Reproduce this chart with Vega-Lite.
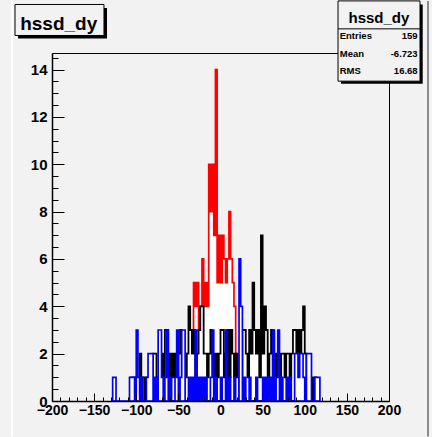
{
  "$schema": "https://vega.github.io/schema/vega-lite/v6.json",
  "width": 337,
  "height": 348,
  "autosize": "none",
  "padding": {"left": 52, "top": 53, "right": 43, "bottom": 36},
  "background": "#f2f2f2",
  "config": {
    "font": "Liberation Sans",
    "view": {"stroke": "#000000", "strokeWidth": 1, "fill": "#f2f2f2"}
  },
  "datasets": {
    "red": [
      {"x": -48, "n": 0}, {"x": -46, "n": 1}, {"x": -44, "n": 1}, {"x": -42, "n": 0}, {"x": -40, "n": 2},
      {"x": -38, "n": 1}, {"x": -36, "n": 3}, {"x": -34, "n": 2}, {"x": -32, "n": 5}, {"x": -30, "n": 4},
      {"x": -28, "n": 5}, {"x": -26, "n": 3}, {"x": -24, "n": 4}, {"x": -22, "n": 6}, {"x": -20, "n": 4},
      {"x": -18, "n": 5}, {"x": -16, "n": 4}, {"x": -14, "n": 10}, {"x": -12, "n": 8}, {"x": -10, "n": 10},
      {"x": -8, "n": 7}, {"x": -6, "n": 14}, {"x": -4, "n": 5}, {"x": -2, "n": 7}, {"x": 0, "n": 5},
      {"x": 2, "n": 7}, {"x": 4, "n": 6}, {"x": 6, "n": 5}, {"x": 8, "n": 6}, {"x": 10, "n": 8},
      {"x": 12, "n": 6}, {"x": 14, "n": 5}, {"x": 16, "n": 4}, {"x": 18, "n": 2}, {"x": 20, "n": 2},
      {"x": 22, "n": 1}, {"x": 24, "n": 0}, {"x": 26, "n": 1}, {"x": 28, "n": 1}, {"x": 30, "n": 1},
      {"x": 32, "n": 1}, {"x": 34, "n": 0}, {"x": 36, "n": 1}, {"x": 38, "n": 1}, {"x": 40, "n": 1},
      {"x": 42, "n": 1}, {"x": 44, "n": 1}, {"x": 46, "n": 1}, {"x": 48, "n": 0}
    ],
    "black": [
      {"x": -108, "n": 0}, {"x": -106, "n": 1}, {"x": -104, "n": 0}, {"x": -102, "n": 1}, {"x": -100, "n": 0},
      {"x": -98, "n": 1}, {"x": -96, "n": 2}, {"x": -94, "n": 1}, {"x": -92, "n": 1}, {"x": -90, "n": 0},
      {"x": -88, "n": 1}, {"x": -86, "n": 1}, {"x": -84, "n": 0}, {"x": -82, "n": 1}, {"x": -80, "n": 2},
      {"x": -78, "n": 2}, {"x": -76, "n": 1}, {"x": -74, "n": 0}, {"x": -72, "n": 1}, {"x": -70, "n": 2},
      {"x": -68, "n": 1}, {"x": -66, "n": 3}, {"x": -64, "n": 3}, {"x": -62, "n": 2}, {"x": -60, "n": 1},
      {"x": -58, "n": 2}, {"x": -56, "n": 1}, {"x": -54, "n": 2}, {"x": -52, "n": 0}, {"x": -50, "n": 2},
      {"x": -48, "n": 3}, {"x": -46, "n": 1}, {"x": -44, "n": 2}, {"x": -42, "n": 1}, {"x": -40, "n": 2},
      {"x": -38, "n": 4}, {"x": -36, "n": 3}, {"x": -34, "n": 2}, {"x": -32, "n": 3}, {"x": -30, "n": 1},
      {"x": -28, "n": 2}, {"x": -26, "n": 3}, {"x": -24, "n": 4}, {"x": -22, "n": 4}, {"x": -20, "n": 2},
      {"x": -18, "n": 2}, {"x": -16, "n": 1}, {"x": -14, "n": 2}, {"x": -12, "n": 3}, {"x": -10, "n": 2},
      {"x": -8, "n": 1}, {"x": -6, "n": 2}, {"x": -4, "n": 1}, {"x": -2, "n": 2}, {"x": 0, "n": 3},
      {"x": 2, "n": 3}, {"x": 4, "n": 1}, {"x": 6, "n": 2}, {"x": 8, "n": 3}, {"x": 10, "n": 1},
      {"x": 12, "n": 3}, {"x": 14, "n": 2}, {"x": 16, "n": 1}, {"x": 18, "n": 2}, {"x": 20, "n": 1},
      {"x": 22, "n": 0}, {"x": 24, "n": 1}, {"x": 26, "n": 3}, {"x": 28, "n": 3}, {"x": 30, "n": 2},
      {"x": 32, "n": 1}, {"x": 34, "n": 3}, {"x": 36, "n": 2}, {"x": 38, "n": 5}, {"x": 40, "n": 3},
      {"x": 42, "n": 2}, {"x": 44, "n": 3}, {"x": 46, "n": 1}, {"x": 48, "n": 7}, {"x": 50, "n": 2},
      {"x": 52, "n": 4}, {"x": 54, "n": 3}, {"x": 56, "n": 1}, {"x": 58, "n": 2}, {"x": 60, "n": 3},
      {"x": 62, "n": 1}, {"x": 64, "n": 2}, {"x": 66, "n": 1}, {"x": 68, "n": 2}, {"x": 70, "n": 1},
      {"x": 72, "n": 2}, {"x": 74, "n": 2}, {"x": 76, "n": 1}, {"x": 78, "n": 2}, {"x": 80, "n": 2},
      {"x": 82, "n": 1}, {"x": 84, "n": 2}, {"x": 86, "n": 3}, {"x": 88, "n": 3}, {"x": 90, "n": 2},
      {"x": 92, "n": 3}, {"x": 94, "n": 1}, {"x": 96, "n": 3}, {"x": 98, "n": 4}, {"x": 100, "n": 2},
      {"x": 102, "n": 1}, {"x": 104, "n": 1}, {"x": 106, "n": 0}, {"x": 108, "n": 1}, {"x": 110, "n": 0},
      {"x": 112, "n": 1}, {"x": 114, "n": 0}
    ],
    "blue": [
      {"x": -130, "n": 0}, {"x": -128, "n": 1}, {"x": -126, "n": 1}, {"x": -124, "n": 0}, {"x": -110, "n": 0},
      {"x": -108, "n": 1}, {"x": -106, "n": 1}, {"x": -104, "n": 1}, {"x": -102, "n": 0}, {"x": -100, "n": 3},
      {"x": -98, "n": 1}, {"x": -96, "n": 0}, {"x": -94, "n": 1}, {"x": -92, "n": 0}, {"x": -90, "n": 0},
      {"x": -88, "n": 1}, {"x": -86, "n": 2}, {"x": -84, "n": 2}, {"x": -82, "n": 2}, {"x": -80, "n": 0},
      {"x": -78, "n": 1}, {"x": -76, "n": 0}, {"x": -74, "n": 3}, {"x": -72, "n": 3}, {"x": -70, "n": 1},
      {"x": -68, "n": 0}, {"x": -66, "n": 1}, {"x": -64, "n": 3}, {"x": -62, "n": 0}, {"x": -60, "n": 1},
      {"x": -58, "n": 0}, {"x": -56, "n": 0}, {"x": -54, "n": 1}, {"x": -52, "n": 3}, {"x": -50, "n": 0},
      {"x": -48, "n": 1}, {"x": -46, "n": 3}, {"x": -44, "n": 3}, {"x": -42, "n": 0}, {"x": -40, "n": 0},
      {"x": -38, "n": 1}, {"x": -36, "n": 0}, {"x": -34, "n": 1}, {"x": -32, "n": 0}, {"x": -30, "n": 3},
      {"x": -28, "n": 0}, {"x": -26, "n": 1}, {"x": -24, "n": 0}, {"x": -22, "n": 1}, {"x": -20, "n": 0},
      {"x": -18, "n": 1}, {"x": -16, "n": 0}, {"x": -14, "n": 0}, {"x": -12, "n": 1}, {"x": -10, "n": 3},
      {"x": -8, "n": 0}, {"x": -6, "n": 1}, {"x": -4, "n": 0}, {"x": -2, "n": 0}, {"x": 0, "n": 1},
      {"x": 2, "n": 0}, {"x": 4, "n": 0}, {"x": 6, "n": 3}, {"x": 8, "n": 0}, {"x": 10, "n": 1},
      {"x": 12, "n": 0}, {"x": 14, "n": 0}, {"x": 16, "n": 1}, {"x": 18, "n": 0}, {"x": 20, "n": 0},
      {"x": 22, "n": 6}, {"x": 24, "n": 4}, {"x": 26, "n": 0}, {"x": 28, "n": 1}, {"x": 30, "n": 0},
      {"x": 32, "n": 0}, {"x": 34, "n": 1}, {"x": 36, "n": 0}, {"x": 38, "n": 0}, {"x": 40, "n": 0},
      {"x": 42, "n": 1}, {"x": 44, "n": 0}, {"x": 46, "n": 0}, {"x": 48, "n": 0}, {"x": 50, "n": 1},
      {"x": 52, "n": 0}, {"x": 54, "n": 1}, {"x": 56, "n": 0}, {"x": 58, "n": 1}, {"x": 60, "n": 0},
      {"x": 62, "n": 3}, {"x": 64, "n": 0}, {"x": 66, "n": 1}, {"x": 68, "n": 3}, {"x": 70, "n": 0},
      {"x": 72, "n": 1}, {"x": 74, "n": 0}, {"x": 76, "n": 0}, {"x": 78, "n": 1}, {"x": 80, "n": 0},
      {"x": 82, "n": 1}, {"x": 84, "n": 0}, {"x": 86, "n": 0}, {"x": 88, "n": 2}, {"x": 90, "n": 2},
      {"x": 92, "n": 1}, {"x": 94, "n": 2}, {"x": 96, "n": 2}, {"x": 98, "n": 1}, {"x": 100, "n": 0},
      {"x": 102, "n": 2}, {"x": 104, "n": 2}, {"x": 106, "n": 2}, {"x": 108, "n": 0}, {"x": 112, "n": 1},
      {"x": 114, "n": 1}, {"x": 116, "n": 1}, {"x": 118, "n": 0}
    ],
    "panel": [{"name": "hssd_dy"}]
  },
  "resolve": {"axis": {"x": "independent", "y": "independent"}},
  "layer": [
    {
      "data": {"name": "red"},
      "mark": {"type": "area", "interpolate": "step-after", "fill": "#ffffff", "stroke": "#ff0000", "strokeWidth": 1.7},
      "encoding": {
        "x": {"field": "x", "type": "quantitative", "scale": {"domain": [-200, 200], "nice": false, "zero": false}, "axis": {
          "orient": "bottom", "values": [-200, -150, -100, -50, 0, 50, 100, 150, 200], "format": "d",
          "title": null, "grid": false, "domainColor": "#000000", "domainWidth": 1.5,
          "tickColor": "#000000", "tickSize": -8, "tickWidth": 1,
          "labelFont": "Liberation Sans", "labelFontWeight": "bold", "labelFontSize": 14, "labelColor": "#000000",
          "labelPadding": 10, "labelFlush": false, "labelOverlap": false, "zindex": 1
        }},
        "y": {"field": "n", "type": "quantitative", "scale": {"domain": [0, 14.7], "nice": false}, "axis": {
          "orient": "left", "values": [0, 2, 4, 6, 8, 10, 12, 14], "format": "d",
          "title": null, "grid": false, "domainColor": "#000000", "domainWidth": 1.5,
          "tickColor": "#000000", "tickSize": -12, "tickWidth": 1,
          "labelFont": "Liberation Sans", "labelFontWeight": "bold", "labelFontSize": 15, "labelColor": "#000000",
          "labelPadding": 17, "labelFlush": false, "labelOverlap": false, "zindex": 1
        }}
      }
    },
    {
      "data": {"name": "black"},
      "mark": {"type": "area", "interpolate": "step-after", "fill": "#ffffff", "stroke": "#000000", "strokeWidth": 1.8},
      "encoding": {
        "x": {"field": "x", "type": "quantitative", "scale": {"domain": [-200, 200], "nice": false, "zero": false}, "axis": {
          "orient": "bottom", "values": [-190, -180, -170, -160, -140, -130, -120, -110, -90, -80, -70, -60, -40, -30, -20, -10, 10, 20, 30, 40, 60, 70, 80, 90, 110, 120, 130, 140, 160, 170, 180, 190],
          "title": null, "grid": false, "domain": false, "labels": false,
          "tickColor": "#000000", "tickSize": -4, "tickWidth": 1, "zindex": 1
        }},
        "y": {"field": "n", "type": "quantitative", "scale": {"domain": [0, 14.7], "nice": false}, "axis": {
          "orient": "left", "values": [0.5, 1, 1.5, 2.5, 3, 3.5, 4.5, 5, 5.5, 6.5, 7, 7.5, 8.5, 9, 9.5, 10.5, 11, 11.5, 12.5, 13, 13.5, 14.5],
          "title": null, "grid": false, "domain": false, "labels": false,
          "tickColor": "#000000", "tickSize": -6, "tickWidth": 1, "zindex": 1
        }}
      }
    },
    {
      "data": {"name": "blue"},
      "mark": {"type": "area", "interpolate": "step-after", "fill": "#ffffff", "stroke": "#0000ff", "strokeWidth": 1.7},
      "encoding": {
        "x": {"field": "x", "type": "quantitative", "scale": {"domain": [-200, 200], "nice": false, "zero": false}, "axis": null},
        "y": {"field": "n", "type": "quantitative", "scale": {"domain": [0, 14.7], "nice": false}, "axis": null}
      }
    },
    {
      "data": {"name": "panel"},
      "mark": {"type": "rule", "stroke": "#ffffff", "strokeWidth": 2, "clip": false},
      "encoding": {
        "x": {"datum": -247.5, "type": "quantitative", "scale": {"domain": [-200, 200], "nice": false, "zero": false}, "axis": null},
        "y": {"datum": 16.9, "type": "quantitative", "scale": {"domain": [0, 14.7], "nice": false}, "axis": null},
        "y2": {"datum": -1.5}
      }
    },
    {
      "data": {"name": "panel"},
      "mark": {"type": "rule", "stroke": "#8c8c8c", "strokeWidth": 2, "clip": false},
      "encoding": {
        "x": {"datum": 246.3, "type": "quantitative", "scale": {"domain": [-200, 200], "nice": false, "zero": false}, "axis": null},
        "y": {"datum": 16.9, "type": "quantitative", "scale": {"domain": [0, 14.7], "nice": false}, "axis": null},
        "y2": {"datum": -1.5}
      }
    },
    {
      "data": {"name": "panel"},
      "mark": {"type": "rect", "fill": "#000000", "clip": false},
      "encoding": {
        "x": {"datum": -240.3, "type": "quantitative", "scale": {"domain": [-200, 200], "nice": false, "zero": false}, "axis": null},
        "x2": {"datum": -134.7},
        "y": {"datum": 16.6, "type": "quantitative", "scale": {"domain": [0, 14.7], "nice": false}, "axis": null},
        "y2": {"datum": 15.31}
      }
    },
    {
      "data": {"name": "panel"},
      "mark": {"type": "rect", "fill": "#f2f2f2", "stroke": "#000000", "strokeWidth": 1, "clip": false},
      "encoding": {
        "x": {"datum": -243.9, "type": "quantitative", "scale": {"domain": [-200, 200], "nice": false, "zero": false}, "axis": null},
        "x2": {"datum": -138.3},
        "y": {"datum": 16.75, "type": "quantitative", "scale": {"domain": [0, 14.7], "nice": false}, "axis": null},
        "y2": {"datum": 15.44}
      }
    },
    {
      "data": {"name": "panel"},
      "mark": {"type": "text", "font": "Liberation Sans", "fontWeight": "bold", "fontSize": 19, "align": "center", "baseline": "alphabetic", "color": "#000000", "clip": false},
      "encoding": {
        "x": {"datum": -192, "type": "quantitative", "scale": {"domain": [-200, 200], "nice": false, "zero": false}, "axis": null},
        "y": {"datum": 15.69, "type": "quantitative", "scale": {"domain": [0, 14.7], "nice": false}, "axis": null},
        "text": {"field": "name"}
      }
    },
    {
      "data": {"name": "panel"},
      "mark": {"type": "rect", "fill": "#000000", "clip": false},
      "encoding": {
        "x": {"datum": 143, "type": "quantitative", "scale": {"domain": [-200, 200], "nice": false, "zero": false}, "axis": null},
        "x2": {"datum": 240},
        "y": {"datum": 16.75, "type": "quantitative", "scale": {"domain": [0, 14.7], "nice": false}, "axis": null},
        "y2": {"datum": 13.4}
      }
    },
    {
      "data": {"name": "panel"},
      "mark": {"type": "rect", "fill": "#f2f2f2", "stroke": "#000000", "strokeWidth": 1, "clip": false},
      "encoding": {
        "x": {"datum": 139.5, "type": "quantitative", "scale": {"domain": [-200, 200], "nice": false, "zero": false}, "axis": null},
        "x2": {"datum": 236.8},
        "y": {"datum": 16.9, "type": "quantitative", "scale": {"domain": [0, 14.7], "nice": false}, "axis": null},
        "y2": {"datum": 13.51}
      }
    },
    {
      "data": {"name": "panel"},
      "mark": {"type": "rule", "stroke": "#000000", "strokeWidth": 1, "clip": false},
      "encoding": {
        "x": {"datum": 139.5, "type": "quantitative", "scale": {"domain": [-200, 200], "nice": false, "zero": false}, "axis": null},
        "x2": {"datum": 236.8},
        "y": {"datum": 15.72, "type": "quantitative", "scale": {"domain": [0, 14.7], "nice": false}, "axis": null}
      }
    },
    {
      "data": {"name": "panel"},
      "mark": {"type": "text", "font": "Liberation Sans", "fontWeight": "bold", "fontSize": 15, "align": "center", "baseline": "alphabetic", "color": "#000000", "clip": false},
      "encoding": {
        "x": {"datum": 188, "type": "quantitative", "scale": {"domain": [-200, 200], "nice": false, "zero": false}, "axis": null},
        "y": {"datum": 15.97, "type": "quantitative", "scale": {"domain": [0, 14.7], "nice": false}, "axis": null},
        "text": {"field": "name"}
      }
    },
    {
      "data": {"name": "panel"},
      "mark": {"type": "text", "font": "Liberation Sans", "fontWeight": "bold", "fontSize": 9.5, "align": "left", "baseline": "middle", "lineHeight": 17.5, "color": "#000000", "clip": false,
        "text": ["Entries", "Mean", "RMS"]},
      "encoding": {
        "x": {"datum": 141.5, "type": "quantitative", "scale": {"domain": [-200, 200], "nice": false, "zero": false}, "axis": null},
        "y": {"datum": 15.4, "type": "quantitative", "scale": {"domain": [0, 14.7], "nice": false}, "axis": null}
      }
    },
    {
      "data": {"name": "panel"},
      "mark": {"type": "text", "font": "Liberation Sans", "fontWeight": "bold", "fontSize": 9.5, "align": "right", "baseline": "middle", "lineHeight": 17.5, "color": "#000000", "clip": false,
        "text": ["159", "-6.723", "16.68"]},
      "encoding": {
        "x": {"datum": 234, "type": "quantitative", "scale": {"domain": [-200, 200], "nice": false, "zero": false}, "axis": null},
        "y": {"datum": 15.4, "type": "quantitative", "scale": {"domain": [0, 14.7], "nice": false}, "axis": null}
      }
    }
  ]
}
